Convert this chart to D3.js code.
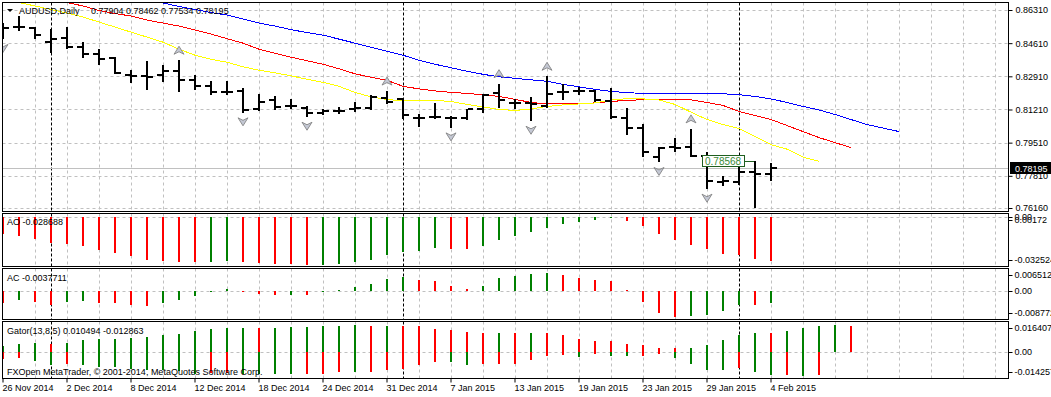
<!DOCTYPE html>
<html><head><meta charset="utf-8">
<script src="https://cdn.jsdelivr.net/npm/d3@7"></script>
<style>
body{margin:0;background:#fff}
svg{display:block}
text{font-family:"Liberation Sans",Arial,sans-serif;font-size:9px;fill:#000}
</style>
</head><body>
<svg id="c" width="1051" height="397"></svg>
<script>
// ---------------- DATA ----------------
const symbolTitle = "AUDUSD,Daily";
const dateLabels = ["26 Nov 2014","2 Dec 2014","8 Dec 2014","12 Dec 2014","18 Dec 2014","24 Dec 2014","31 Dec 2014","7 Jan 2015","13 Jan 2015","19 Jan 2015","23 Jan 2015","29 Jan 2015","4 Feb 2015"];
const dateIdx = [0,4,8,12,16,20,24,28,32,36,40,44,48];
const monthStartIdx = [3,25,46];

const open = [0.85537,0.85460,0.85368,0.84677,0.84852,0.84419,0.84043,0.83873,0.82962,0.82910,0.82962,0.83168,0.82704,0.82410,0.82101,0.82153,0.81225,0.81673,0.81380,0.81297,0.81019,0.81158,0.81210,0.81297,0.81792,0.81761,0.80762,0.80813,0.80762,0.80762,0.81246,0.82050,0.81555,0.81555,0.81364,0.82101,0.82153,0.82137,0.81638,0.80782,0.80247,0.78789,0.79268,0.79268,0.78840,0.77516,0.77501,0.77980,0.77904];
const high = [0.85625,0.86001,0.85450,0.85331,0.85419,0.84646,0.84301,0.83904,0.83219,0.83698,0.83477,0.83734,0.82962,0.82668,0.82668,0.82328,0.82019,0.81880,0.81725,0.81400,0.81210,0.81328,0.81586,0.81931,0.82153,0.81792,0.80988,0.81555,0.80901,0.81246,0.82019,0.82534,0.81761,0.81844,0.82910,0.82534,0.82359,0.82189,0.82328,0.81297,0.80473,0.79268,0.79752,0.80216,0.79010,0.77810,0.78325,0.78568,0.78462];
const low = [0.84801,0.85244,0.84816,0.84111,0.84286,0.83873,0.83513,0.83013,0.82586,0.82189,0.82616,0.82101,0.82225,0.81967,0.81967,0.81040,0.81158,0.81195,0.81246,0.80813,0.80937,0.80988,0.81071,0.81195,0.81504,0.80731,0.80334,0.80731,0.80267,0.80695,0.81040,0.81297,0.81246,0.80607,0.81297,0.81673,0.81931,0.81586,0.80731,0.79907,0.78753,0.78495,0.79010,0.78789,0.77125,0.77295,0.77331,0.76177,0.77534];
const close = [0.85367,0.85440,0.85022,0.84801,0.84419,0.84079,0.83822,0.83080,0.82910,0.82874,0.83168,0.82704,0.82410,0.82101,0.82090,0.81195,0.81586,0.81328,0.81364,0.81019,0.81107,0.81150,0.81277,0.81844,0.81586,0.80937,0.80750,0.80800,0.80770,0.81210,0.81967,0.81673,0.81545,0.81504,0.81983,0.82090,0.82140,0.81710,0.80813,0.80247,0.79010,0.79216,0.79260,0.78840,0.77552,0.77520,0.77980,0.77904,0.78195];

// Alligator lines (already shifted forward): first index + values
const jawStart = 8;
const jaw = [0.86980,0.86825,0.86670,0.86490,0.86336,0.86181,0.86052,0.85847,0.85640,0.85486,0.85306,0.85151,0.85023,0.84817,0.84611,0.84405,0.84198,0.83992,0.83735,0.83529,0.83349,0.83169,0.83014,0.82885,0.82808,0.82731,0.82654,0.82499,0.82370,0.82242,0.82138,0.82072,0.82036,0.82030,0.82025,0.82020,0.82020,0.82015,0.81969,0.81881,0.81752,0.81572,0.81366,0.81186,0.80954,0.80696,0.80439,0.80259,0.80079];
const teethStart = 2;
const teeth = [0.87083,0.86877,0.86696,0.86516,0.86284,0.86130,0.86001,0.85795,0.85641,0.85486,0.85280,0.85074,0.84842,0.84611,0.84302,0.84096,0.83890,0.83709,0.83529,0.83297,0.83040,0.82860,0.82705,0.82396,0.82267,0.82164,0.82087,0.82036,0.81958,0.81881,0.81727,0.81572,0.81495,0.81495,0.81505,0.81546,0.81624,0.81675,0.81711,0.81727,0.81727,0.81701,0.81572,0.81418,0.81108,0.80903,0.80696,0.80388,0.80079,0.79770,0.79512,0.79255];
const lipsStart = 0;
const lips = [0.86877,0.86696,0.86516,0.86336,0.86156,0.85950,0.85692,0.85435,0.85177,0.84920,0.84662,0.84302,0.83993,0.83787,0.83632,0.83400,0.83220,0.83091,0.82937,0.82757,0.82602,0.82396,0.82087,0.81855,0.81727,0.81649,0.81649,0.81675,0.81623,0.81469,0.81340,0.81212,0.81160,0.81237,0.81366,0.81443,0.81495,0.81546,0.81701,0.81763,0.81752,0.81701,0.81469,0.81073,0.80697,0.80439,0.80233,0.79821,0.79409,0.79177,0.78765,0.78559];

const upFractals = [11,24,31,34,43];
const downFractals = [0,15,19,28,33,41,44];

const ao = [-0.01118,-0.01247,-0.01421,-0.01680,-0.01764,-0.01893,-0.02151,-0.02326,-0.02539,-0.02797,-0.02862,-0.02907,-0.02946,-0.02900,-0.02880,-0.02950,-0.02970,-0.03040,-0.03050,-0.03130,-0.03100,-0.03040,-0.02910,-0.02800,-0.02470,-0.02260,-0.02200,-0.02000,-0.02090,-0.02100,-0.01890,-0.01510,-0.01250,-0.00970,-0.00710,-0.00470,-0.00320,-0.00210,-0.00080,-0.00260,-0.00600,-0.01120,-0.01510,-0.01830,-0.02110,-0.02410,-0.02470,-0.02710,-0.028688];
const aoPrev = -0.0100;
const ac = [-0.00364,-0.00281,-0.00333,-0.00437,-0.00333,-0.00302,-0.00370,-0.00380,-0.00437,-0.00458,-0.00364,-0.00281,-0.00146,-0.00020,0.00050,-0.00030,-0.00083,-0.00125,-0.00115,-0.00135,-0.00040,0.00030,0.00135,0.00218,0.00374,0.00447,0.00343,0.00312,0.00166,0.00062,0.00166,0.00416,0.00478,0.00530,0.00572,0.00500,0.00416,0.00343,0.00312,0.00030,-0.00343,-0.00676,-0.00801,-0.00780,-0.00749,-0.00624,-0.00437,-0.00450,-0.0037711];
const acPrev = -0.0030;
const gatorUp = [0.00310,0.00420,0.00493,0.00420,0.00493,0.00639,0.00694,0.00700,0.00767,0.00821,0.00913,0.00967,0.01132,0.01241,0.01296,0.01300,0.01290,0.01296,0.01369,0.01375,0.01424,0.01430,0.01460,0.01405,0.01410,0.01400,0.01395,0.01278,0.01186,0.01095,0.01040,0.01060,0.01055,0.01065,0.01040,0.00913,0.00694,0.00584,0.00580,0.00456,0.00365,0.00237,0.00230,0.00237,0.00402,0.00639,0.00913,0.01060,0.010494,0.01132,0.01296,0.01405,0.01460,0.01405];
const gatorUpPrev = 0.0028;
const gatorDown = [-0.00402,-0.00329,-0.00493,-0.00694,-0.00639,-0.00700,-0.00821,-0.00830,-0.00930,-0.00970,-0.01000,-0.01040,-0.01180,-0.01175,-0.01170,-0.01180,-0.01185,-0.01190,-0.01195,-0.01190,-0.01185,-0.01100,-0.01105,-0.01100,-0.01004,-0.00913,-0.00730,-0.00548,-0.00555,-0.00730,-0.00675,-0.00670,-0.00665,-0.00456,-0.00237,-0.00183,-0.00274,-0.00128,-0.00237,-0.00240,-0.00235,-0.00128,-0.00329,-0.00675,-0.00967,-0.00970,-0.00876,-0.01095,-0.012863,-0.01280,-0.01300,-0.01241];
const gatorDownPrev = -0.0045;

const priceTicks = [0.86310,0.84610,0.82910,0.81210,0.79510,0.77810,0.76160];
const priceTickLabels = ["0.86310","0.84610","0.82910","0.81210","0.79510","0.77810","0.76160"];
const aoRange = [-0.032524, 0.00172];
const aoTickLabels = ["0.00172","0.00","-0.032524"];
const acRange = [-0.008772, 0.006512];
const acTickLabels = ["0.006512","0.00","-0.008772"];
const gatorRange = [-0.014257, 0.016407];
const gatorTickLabels = ["0.016407","0.00","-0.014257"];
const copyright = "FXOpen MetaTrader, \u00A9 2001-2014, MetaQuotes Software Corp.";

// ---------------- LAYOUT ----------------
const GREEN = "#008000", RED = "#ff0000", GRID = "#c0c0c0";
const PL = 2.5, PR = 1008.5;
const panels = [
  {id:"main", top:2.5, bottom:211.5},
  {id:"ao", top:213.5, bottom:266.5},
  {id:"ac", top:268.5, bottom:319.5},
  {id:"gator", top:321.5, bottom:378.5}
];
const svg = d3.select("#c");
svg.append("rect").attr("width",1051).attr("height",397).attr("fill","#fff");

const x = d3.scaleLinear().domain([0,62]).range([3,995]);
const yMain = d3.scaleLinear().domain([0.76160,0.86310]).range([208,10]);
const yAO = d3.scaleLinear().domain(aoRange).range([267,214]);
const yAC = d3.scaleLinear().domain(acRange).range([319,270]);
const yG = d3.scaleLinear().domain(gatorRange).range([378,322]);

const defs = svg.append("defs");
panels.forEach(p=>{
  defs.append("clipPath").attr("id","clip-"+p.id).append("rect")
    .attr("x",PL+0.5).attr("y",p.top+0.5).attr("width",PR-PL-1).attr("height",p.bottom-p.top-1);
});
const px = v => Math.round(v)+0.5;

const gridIdx = d3.range(2,63,2).filter(i=>!monthStartIdx.includes(i));
const layers = {};
panels.forEach(p=>{
  const g = svg.append("g").attr("clip-path","url(#clip-"+p.id+")");
  g.selectAll("line.vg").data(gridIdx).join("line")
    .attr("x1",i=>px(x(i))).attr("x2",i=>px(x(i)))
    .attr("y1",p.top).attr("y2",p.bottom)
    .attr("stroke",GRID).attr("stroke-dasharray","3,3");
  layers[p.id] = g;
});

// horizontal grids
layers.main.selectAll("line.hg").data(priceTicks).join("line")
  .attr("x1",PL).attr("x2",PR).attr("y1",d=>px(yMain(d))).attr("y2",d=>px(yMain(d)))
  .attr("stroke",GRID).attr("stroke-dasharray","3,3");
[[layers.ao,yAO],[layers.ac,yAC],[layers.gator,yG]].forEach(([g,s])=>{
  g.append("line").attr("x1",PL).attr("x2",PR).attr("y1",px(s(0))).attr("y2",px(s(0)))
    .attr("stroke",GRID).attr("stroke-dasharray","3,3");
});

// month separators
panels.forEach(p=>{
  layers[p.id].selectAll("line.ms").data(monthStartIdx).join("line")
    .attr("x1",i=>px(x(i))).attr("x2",i=>px(x(i)))
    .attr("y1",p.top).attr("y2",p.bottom)
    .attr("stroke","#000").attr("stroke-dasharray","3,2");
});

// ---------------- MAIN ----------------
const last = close.length-1;
const gm = layers.main;
gm.append("line").attr("x1",PL).attr("x2",PR)
  .attr("y1",px(yMain(close[last]))).attr("y2",px(yMain(close[last])))
  .attr("stroke",GRID);

function lineOf(vals,start){
  return d3.line().x(d=>x(d.i)).y(d=>yMain(d.v))(vals.map((v,k)=>({i:start+k,v})));
}
[[jaw,jawStart,"#0000ff"],[teeth,teethStart,"#ff0000"],[lips,lipsStart,"#ffff00"]].forEach(([vals,st,col])=>{
  gm.append("path").attr("d",lineOf(vals,st)).attr("fill","none").attr("stroke",col)
    .attr("stroke-width",1).attr("shape-rendering","crispEdges");
});

const bars = open.map((o,i)=>({i,o,h:high[i],l:low[i],c:close[i]}));
const bg = gm.append("g").attr("fill","#000").attr("shape-rendering","crispEdges");
bars.forEach(b=>{
  const cx = Math.round(x(b.i));
  const yh = Math.round(yMain(b.h)), yl = Math.round(yMain(b.l));
  bg.append("rect").attr("x",cx-1).attr("y",yh).attr("width",2).attr("height",Math.max(2,yl-yh));
  bg.append("rect").attr("x",cx-6).attr("y",Math.round(yMain(b.o))-1).attr("width",5).attr("height",2);
  bg.append("rect").attr("x",cx+1).attr("y",Math.round(yMain(b.c))-1).attr("width",5).attr("height",2);
});

// fractals
const upArrow = "M0,-4 L5,4 L0,1.5 L-5,4 Z";
const downArrow = "M0,4 L5,-4 L0,-1.5 L-5,-4 Z";
gm.selectAll("path.fu").data(upFractals).join("path")
  .attr("d",upArrow).attr("transform",i=>`translate(${x(i)},${yMain(high[i])-10})`)
  .attr("fill","#c4c8d4").attr("stroke","#7a7a7a").attr("stroke-width",0.8);
gm.selectAll("path.fd").data(downFractals).join("path")
  .attr("d",downArrow).attr("transform",i=>`translate(${x(i)},${yMain(low[i])+9})`)
  .attr("fill","#c4c8d4").attr("stroke","#7a7a7a").attr("stroke-width",0.8);

// label of high of bar 47
const hiIdx = 47;
const hy = Math.round(yMain(high[hiIdx]));
const bxR = Math.round(x(hiIdx))-10;
gm.append("line").attr("x1",bxR).attr("x2",Math.round(x(hiIdx))-1).attr("y1",hy+0.5).attr("y2",hy+0.5).attr("stroke","#1f5f1f");
gm.append("rect").attr("x",bxR-42.5).attr("y",hy-5.5).attr("width",42).attr("height",11)
  .attr("fill","#fff").attr("stroke","#1f5f1f");
gm.append("text").attr("x",bxR-40).attr("y",hy+3.5).style("fill","#3a8a3a").style("font-size","10px")
  .text(high[hiIdx].toFixed(5));

// ---------------- HISTOGRAMS ----------------
function colorSeries(vals,prev,absMode){
  let up = true, p = prev;
  return vals.map(v=>{
    const a = absMode? Math.abs(v):v, b = absMode? Math.abs(p):p;
    if(a>b) up=true; else if(a<b) up=false;
    p=v; return up?GREEN:RED;
  });
}
function hist(g,vals,scale,cols){
  const z = Math.round(scale(0));
  g.selectAll(null).data(vals).join("rect")
    .attr("x",(d,i)=>Math.round(x(i))-1).attr("width",2)
    .attr("y",d=>Math.min(z,Math.round(scale(d))))
    .attr("height",d=>Math.max(1,Math.abs(Math.round(scale(d))-z)))
    .attr("fill",(d,i)=>cols[i]).attr("shape-rendering","crispEdges");
}
hist(layers.ao, ao, yAO, colorSeries(ao,aoPrev,false));
hist(layers.ac, ac, yAC, colorSeries(ac,acPrev,false));
hist(layers.gator, gatorUp, yG, colorSeries(gatorUp,gatorUpPrev,false));
hist(layers.gator, gatorDown, yG, colorSeries(gatorDown,gatorDownPrev,true));

// ---------------- FRAMES ----------------
panels.forEach(p=>{
  svg.append("rect").attr("x",PL).attr("y",p.top).attr("width",PR-PL).attr("height",p.bottom-p.top)
    .attr("fill","none").attr("stroke","#000");
});

// ---------------- AXES ----------------
const axMain = svg.append("g").attr("transform",`translate(${PR},0)`)
  .call(d3.axisRight(yMain).tickValues(priceTicks).tickFormat((d,i)=>priceTickLabels[i]).tickSize(4).tickPadding(3));
axMain.select(".domain").remove();
axMain.selectAll("text").attr("font-family",null).attr("font-size",null);

// current price box
const cpY = Math.round(yMain(close[last]));
svg.append("rect").attr("x",1010).attr("y",cpY-6).attr("width",41).attr("height",12).attr("fill","#000");
svg.append("text").attr("x",1015).attr("y",cpY+3.5).style("fill","#fff").text(close[last].toFixed(5));

function subAxis(scale,range,labels,top,bottom){
  const vals = [range[1],0,range[0]];
  const g = svg.append("g");
  vals.forEach((v,k)=>{
    let yy = scale(v);
    if(k!==1) yy = Math.min(Math.max(yy, top+6.5), bottom-6.5);
    g.append("line").attr("x1",PR).attr("x2",PR+4).attr("y1",px(yy)).attr("y2",px(yy)).attr("stroke","#000");
    g.append("text").attr("x",PR+6).attr("y",yy).attr("dy","0.35em").text(labels[k]);
  });
}
subAxis(yAO,aoRange,aoTickLabels,213.5,266.5);
subAxis(yAC,acRange,acTickLabels,268.5,319.5);
subAxis(yG,gatorRange,gatorTickLabels,321.5,378.5);

const axT = svg.append("g").attr("transform","translate(0,378.5)")
  .call(d3.axisBottom(x).tickValues(dateIdx).tickFormat((d,i)=>dateLabels[i]).tickSize(4).tickPadding(2));
axT.select(".domain").remove();
axT.selectAll(".tick line").attr("transform","translate(-0.5,0)");
axT.selectAll("text").attr("font-family",null).attr("font-size",null).attr("text-anchor","start").attr("x",-1);

// ---------------- TEXTS ----------------
svg.append("path").attr("d","M7,9 L13,9 L10,12 Z").attr("fill","#000");
svg.append("text").attr("x",19).attr("y",14).text(symbolTitle);
svg.append("text").attr("x",91).attr("y",14)
  .text([open[last],high[last],low[last],close[last]].map(v=>v.toFixed(5)).join(" "));
svg.append("text").attr("x",7).attr("y",225).text("AO " + ao[last].toFixed(6));
svg.append("text").attr("x",7).attr("y",281).text("AC " + ac[last].toFixed(7));
svg.append("text").attr("x",7).attr("y",334).text("Gator(13,8,5) " + gatorUp[48].toFixed(6) + " " + gatorDown[48].toFixed(6));
svg.append("text").attr("x",7).attr("y",375).text(copyright);
</script>
</body></html>
